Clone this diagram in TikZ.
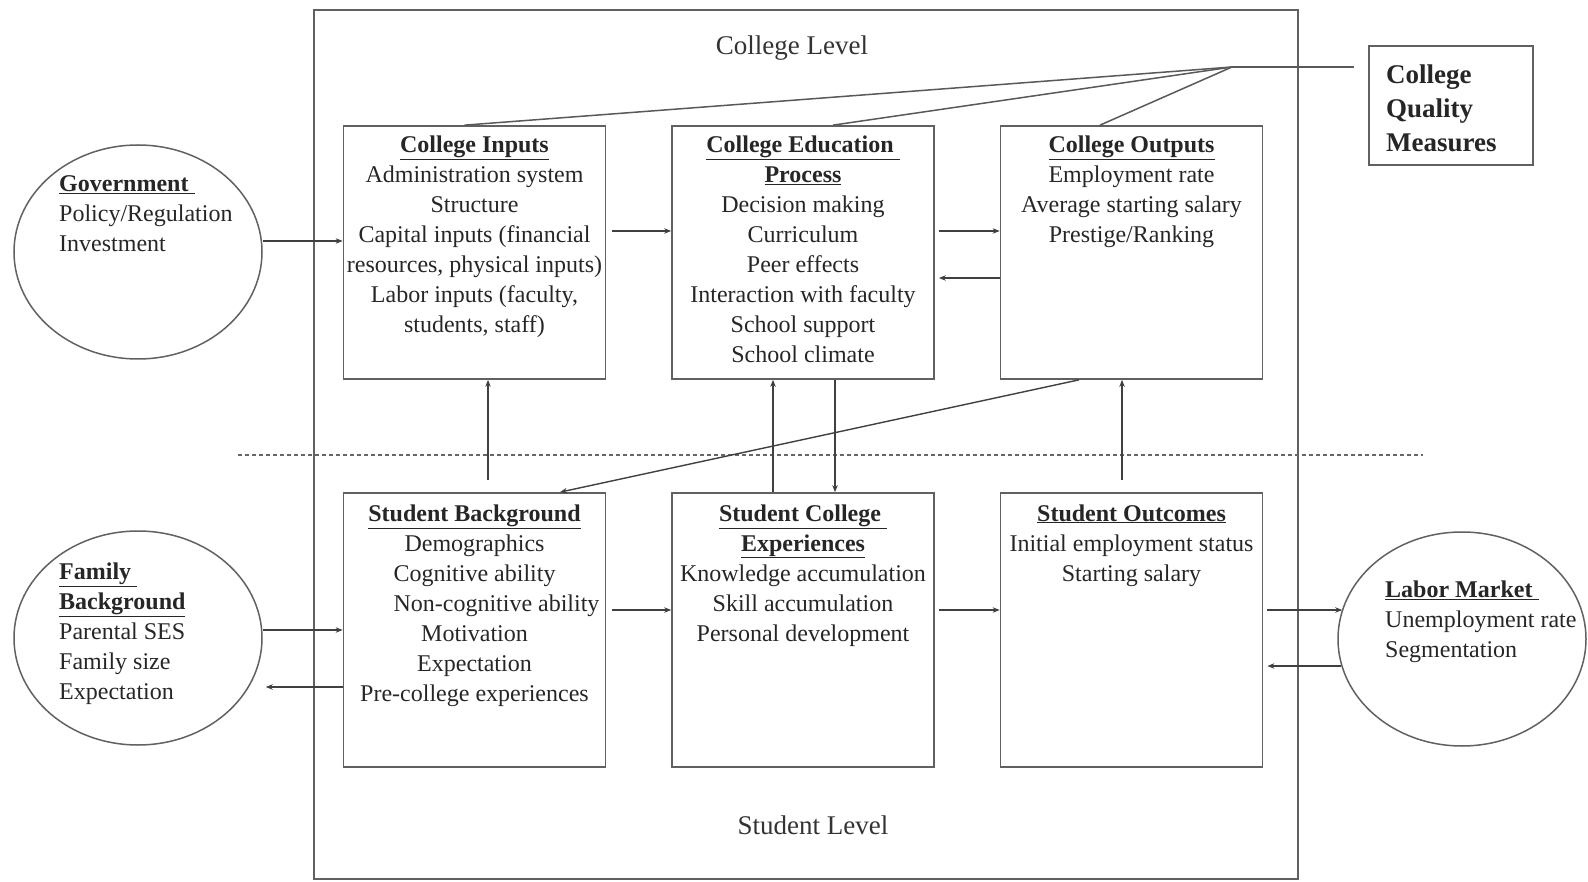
\documentclass[tikz,border=0pt]{standalone}
\usepackage{fontspec}
\setmainfont{Liberation Serif}
\usetikzlibrary{arrows.meta,shapes.geometric}
\begin{document}
\begin{tikzpicture}[x=1pt,y=-1pt,
  lc/.style={draw=black!62, line width=1.7pt},
  boxn/.style={lc, rectangle, minimum width=262pt, inner sep=0pt},
  topbox/.style={boxn, minimum height=253pt},
  botbox/.style={boxn, minimum height=274pt},
  ell/.style={draw=black!62, line width=1.5pt, ellipse, minimum width=248pt, minimum height=214pt, inner sep=0pt},
  btxt/.style={anchor=north, align=center, inner sep=0pt, font=\fontsize{24}{30}\selectfont, text=black!85},
  ltxt/.style={anchor=north west, align=left, inner sep=0pt, font=\fontsize{24}{30}\selectfont, text=black!85},
  lvl/.style={inner sep=0pt, font=\fontsize{27}{32}\selectfont, text=black!80},
  arr/.style={draw=black!75, line width=1.4pt, -{Stealth[length=7pt,width=5.5pt]}},
  ln/.style={draw=black!65, line width=1.5pt},
]
\useasboundingbox (0,0) rectangle (1588,882);

% outer frame
\node[lc, rectangle, minimum width=984pt, minimum height=869pt, inner sep=0pt] (outer) at (806,444.5) {};
\node[lvl] (cl) at (792,48) {College Level};
\node[lvl] (sl) at (813,825) {Student Level};

% dashed divider
\coordinate (dl) at (238,455);
\coordinate (dr) at (1423,455);
\draw[draw=black!60, line width=1.2pt, dash pattern=on 4pt off 3pt] (dl) -- (dr);

% top row boxes
\node[topbox] (ci) at (474.5,252.5) {};
\node[btxt] (cit) at ([yshift=-10.5pt]ci.north) {\underline{\textbf{College Inputs}}\\Administration system\\Structure\\Capital inputs (financial\\resources, physical inputs)\\Labor inputs (faculty,\\students, staff)};
\node[topbox] (ce) at (803,252.5) {};
\node[btxt] (cet) at ([yshift=-10.5pt]ce.north) {\underline{\textbf{College Education\ }}\\\underline{\textbf{Process}}\\Decision making\\Curriculum\\Peer effects\\Interaction with faculty\\School support\\School climate};
\node[topbox] (co) at (1131.5,252.5) {};
\node[btxt] (cot) at ([yshift=-10.5pt]co.north) {\underline{\textbf{College Outputs}}\\Employment rate\\Average starting salary\\Prestige/Ranking};

% bottom row boxes
\node[botbox] (sb) at (474.5,630) {};
\node[btxt] (sbt) at ([yshift=-12pt]sb.north) {\underline{\textbf{Student Background}}\\Demographics\\Cognitive ability\\\hspace*{44pt}Non-cognitive ability\\Motivation\\Expectation\\Pre-college experiences};
\node[botbox] (sc) at (803,630) {};
\node[btxt] (sct) at ([yshift=-12pt]sc.north) {\underline{\textbf{Student College\ }}\\\underline{\textbf{Experiences}}\\Knowledge accumulation\\Skill accumulation\\Personal development};
\node[botbox] (so) at (1131.5,630) {};
\node[btxt] (sot) at ([yshift=-12pt]so.north) {\underline{\textbf{Student Outcomes}}\\Initial employment status\\Starting salary};

% ellipses
\node[ell] (gov) at (138,252) {};
\node[ltxt] (govt) at (59,175) {\underline{\textbf{Government}\ }\\Policy/Regulation\\Investment};
\node[ell] (fam) at (138,638) {};
\node[ltxt] (famt) at (59,562.5) {\underline{\textbf{Family}\ }\\\underline{\textbf{Background}}\\Parental SES\\Family size\\Expectation};
\node[ell] (lab) at (1462,639) {};
\node[ltxt] (labt) at (1385,580.5) {\underline{\textbf{Labor Market}\ }\\Unemployment rate\\Segmentation};

% college quality measures
\node[lc, rectangle, minimum width=164pt, minimum height=119pt, inner sep=0pt] (cqm) at (1451,105.5) {};
\node[anchor=north west, align=left, inner sep=0pt, font=\fontsize{27}{34}\selectfont\bfseries, text=black!85] (cqmt) at (1386,65) {College\\Quality\\Measures};

% hub lines
\coordinate (hub) at (1232,67);
\draw[ln] (hub) -- ([xshift=-14pt,yshift=38.5pt]cqm.west);
\draw[ln] (hub) -- ([xshift=-10pt]ci.north);
\draw[ln] (hub) -- ([xshift=30pt]ce.north);
\draw[ln] (hub) -- ([xshift=-31.5pt]co.north);

% arrows
\draw[arr] ([yshift=11pt]gov.east) -- ([yshift=11.5pt]ci.west);
\draw[arr] ([xshift=6pt,yshift=21.5pt]ci.east) -- ([yshift=21.5pt]ce.west);
\draw[arr] ([xshift=4pt,yshift=21.5pt]ce.east) -- ([yshift=21.5pt]co.west);
\draw[arr] ([yshift=-25.5pt]co.west) -- ([xshift=4pt,yshift=-25.5pt]ce.east);
\draw[arr] ([xshift=13.5pt,yshift=12pt]sb.north) -- ([xshift=13.5pt]ci.south);
\draw[arr] ([xshift=-30pt]sc.north) -- ([xshift=-30pt]ce.south);
\draw[arr] ([xshift=32pt]ce.south) -- ([xshift=32pt]sc.north);
\draw[arr] ([xshift=-9.5pt,yshift=12pt]so.north) -- ([xshift=-9.5pt]co.south);
\draw[arr] ([xshift=-52.5pt]co.south) -- ([xshift=85.5pt]sb.north);
\draw[arr] ([yshift=8pt]fam.east) -- (sb.west);
\draw[arr] ([yshift=-57pt]sb.west) -- ([xshift=3pt,yshift=-49pt]fam.east);
\draw[arr] ([xshift=6pt,yshift=20pt]sb.east) -- ([yshift=20pt]sc.west);
\draw[arr] ([xshift=4pt,yshift=20pt]sc.east) -- ([yshift=20pt]so.west);
\draw[arr] ([xshift=4pt,yshift=20pt]so.east) -- ([xshift=5pt,yshift=29pt]lab.west);
\draw[arr] ([xshift=4pt,yshift=-27pt]lab.west) -- ([xshift=4pt,yshift=-36pt]so.east);
\end{tikzpicture}
\end{document}
